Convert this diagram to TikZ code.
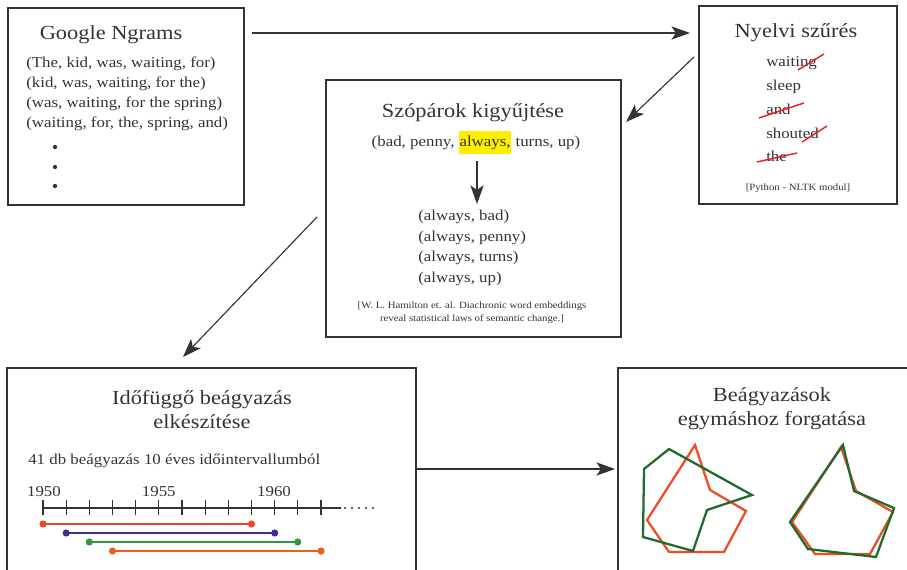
\documentclass[tikz,border=0pt]{standalone}
\usepackage{fontspec}
\setmainfont{Liberation Serif}[FakeStretch=1.12]
\usetikzlibrary{arrows.meta,fit}
\definecolor{ink}{HTML}{333333}
\definecolor{hl}{HTML}{FFEE00}
\definecolor{strike}{HTML}{E8202A}
\definecolor{pred}{HTML}{EE4B26}
\definecolor{pgreen}{HTML}{1E6B2E}
\definecolor{bred}{HTML}{EE4428}
\definecolor{bblue}{HTML}{3B2E8E}
\definecolor{bgreen}{HTML}{2E9846}
\definecolor{borange}{HTML}{E8621E}
\begin{document}
\begin{tikzpicture}[x=0.75pt,y=-0.75pt,
  box/.style={draw=ink, line width=1pt, inner sep=0pt},
  arr/.style={draw=ink, line width=0.85pt, -{Stealth[length=14pt,width=10pt,inset=3.5pt]}},
  ttl/.style={font=\fontsize{15}{18}\selectfont, text=ink, anchor=base, inner sep=0pt},
  bodyw/.style={font=\fontsize{11.3}{13}\selectfont, text=ink, anchor=base west, inner sep=0pt},
  bodyc/.style={font=\fontsize{11.3}{13}\selectfont, text=ink, anchor=base, inner sep=0pt},
  smalltxt/.style={font=\fontsize{7.2}{9.8}\selectfont, text=ink, anchor=base, inner sep=0pt},
  strk/.style={draw=strike, line width=1.1pt},
  bar/.style={line width=1.7pt},
  poly/.style={line width=1.7pt, line join=miter}
]
\useasboundingbox (0,0) rectangle (907,570);
\clip (0,0) rectangle (907,570);

% ---------- boxes ----------
\node[box, fit={(8,8) (244,205)}] (ng) {};
\node[box, fit={(699,6) (897,204)}] (ny) {};
\node[box, fit={(326,80) (621,337)}] (sz) {};
\node[box, fit={(7,368) (416,590)}] (id) {};
\node[box, fit={(618,368) (930,590)}] (be) {};

% ---------- Google Ngrams ----------
\node[ttl] (ngt) at (111,40) {Google Ngrams};
\node[bodyw] (ng1) at (26,68) {(The, kid, was, waiting, for)};
\node[bodyw] (ng2) at (26,88) {(kid, was, waiting, for the)};
\node[bodyw] (ng3) at (26,108) {(was, waiting, for the spring)};
\node[bodyw] (ng4) at (26,128) {(waiting, for, the, spring, and)};
\fill[ink] (55,147) circle (1.6pt) (55,167) circle (1.6pt) (55,186) circle (1.6pt);

% ---------- Nyelvi szűrés ----------
\node[ttl] (nyt) at (796,38) {Nyelvi szűrés};
\node[bodyw] (w1) at (766,67) {waiting};
\node[bodyw] (w2) at (766,91) {sleep};
\node[bodyw] (w3) at (766,115) {and};
\node[bodyw] (w4) at (766,139) {shouted};
\node[bodyw] (w5) at (766,162) {the};
\draw[strk] (798,70) -- (824,54);
\draw[strk] (759,118) -- (804,103);
\draw[strk] (802,142) -- (827,126);
\draw[strk] (757,162) -- (797,153);
\node[smalltxt] (nyc) at (798,191) {[Python - NLTK modul]};

% ---------- Szópárok ----------
\node[ttl] (szt) at (473,118) {Szópárok kigyűjtése};
\node[bodyc] (szl) at (476,147) {(bad, penny, {\setlength{\fboxsep}{0pt}\colorbox{hl}{\rule[-5.2pt]{0pt}{17.2pt}\hspace{0.6pt}always,\hspace{0.6pt}}} turns, up)};
\coordinate (sza) at (477,161);
\coordinate (szb) at (477,204);
\draw[arr] (sza) -- (szb);
\node[bodyw] (p1) at (418,221) {(always, bad)};
\node[bodyw] (p2) at (418,242) {(always, penny)};
\node[bodyw] (p3) at (418,262) {(always, turns)};
\node[bodyw] (p4) at (418,283) {(always, up)};
\node[smalltxt] (szc1) at (472,309) {[W. L. Hamilton et. al. Diachronic word embeddings};
\node[smalltxt] (szc2) at (472,322) {reveal statistical laws of semantic change.]};

% ---------- Időfüggő ----------
\node[ttl] (idt1) at (202,404) {Időfüggő beágyazás};
\node[ttl] (idt2) at (202,428) {elkészítése};
\node[bodyw] (idl) at (28,464) {41 db beágyazás 10 éves időintervallumból};
\draw[ink, line width=0.9pt] (43,508) -- (341,508);
\foreach \i in {0,...,12} {
  \draw[ink, line width=0.9pt] (43+23.17*\i,500) -- (43+23.17*\i,515);
}
\foreach \k in {0,...,4} {
  \fill[ink] (345+7*\k,508) circle (0.8pt);
}
\node[bodyc] (y1) at (44,496) {1950};
\node[bodyc] (y2) at (158.8,496) {1955};
\node[bodyc] (y3) at (274,496) {1960};
\draw[bar, bred] (43,524) -- (251.5,524);
\fill[bred] (43,524) circle (2.7pt) (251.5,524) circle (2.7pt);
\draw[bar, bblue] (66.2,533) -- (274.7,533);
\fill[bblue] (66.2,533) circle (2.7pt) (274.7,533) circle (2.7pt);
\draw[bar, bgreen] (89.3,542) -- (297.8,542);
\fill[bgreen] (89.3,542) circle (2.7pt) (297.8,542) circle (2.7pt);
\draw[bar, borange] (112.5,551) -- (321,551);
\fill[borange] (112.5,551) circle (2.7pt) (321,551) circle (2.7pt);

% ---------- Beágyazások ----------
\node[ttl] (bet1) at (772,402) {Beágyazások};
\node[ttl] (bet2) at (772,425) {egymáshoz forgatása};
\draw[poly, pred] (695,445) -- (710,490) -- (746,511) -- (724,552) -- (669,552) -- (647,520) -- cycle;
\draw[poly, pgreen] (669,449) -- (752,495) -- (707,510) -- (693,551) -- (643,537) -- (644,469) -- cycle;
\draw[poly, pred] (841,447) -- (856,491) -- (893,512) -- (870,554) -- (815,554) -- (792,522) -- cycle;
\draw[poly, pgreen] (843,445) -- (854,491) -- (894,508) -- (876,557) -- (808,549) -- (790,522) -- cycle;

% ---------- connectors ----------
\coordinate (a1s) at (252,33);
\coordinate (a1e) at (690,33);
\coordinate (a2s) at (694,57);
\coordinate (a2e) at (626,122);
\coordinate (a3s) at (317,217);
\coordinate (a3e) at (183,357);
\coordinate (a4s) at (416,469);
\coordinate (a4e) at (615,469);
\draw[arr] (a1s) -- (a1e);
\draw[arr] (a2s) -- (a2e);
\draw[arr] (a3s) -- (a3e);
\draw[arr] (a4s) -- (a4e);
\end{tikzpicture}
\end{document}
